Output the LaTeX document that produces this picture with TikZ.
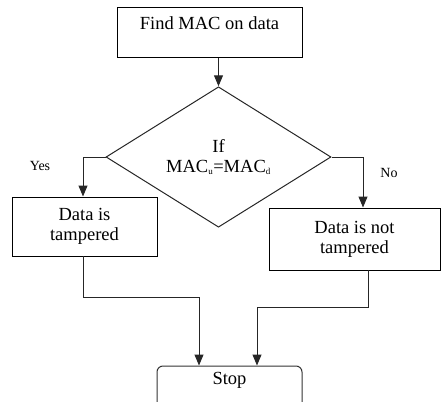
\documentclass[tikz,border=0pt]{standalone}
\usepackage{fontspec}
\setmainfont{Liberation Serif}
\usetikzlibrary{shapes.geometric,arrows.meta}
\begin{document}
\begin{tikzpicture}[x=1pt,y=-1pt,
  every node/.style={font=\rmfamily\fontsize{18.5}{22}\selectfont},
  procbox/.style={draw=black,line width=1pt,rectangle,inner sep=0pt,align=center},
  decision/.style={draw=black!85,line width=1pt,diamond,inner sep=0pt,align=center},
  endbox/.style={draw=black!80,line width=1pt,rectangle,rounded corners=6pt,inner sep=0pt},
  branchlabel/.style={font=\rmfamily\fontsize{14}{16}\selectfont},
  flow/.style={draw=black!85,line width=1pt,-{Triangle[width=9pt,length=11pt]}}]
\useasboundingbox (0,0) rectangle (441,401);

% process and decision boxes
\node[procbox,minimum width=185pt,text height=22pt,text depth=28pt] (find) at (209.5,7) [anchor=north] {Find MAC on data};
\node[decision,minimum width=225pt,minimum height=121pt] (test) at (218.5,157)
  {If\\[-2pt]MAC\textsubscript{\fontsize{9}{9}\selectfont u}=MAC\textsubscript{\fontsize{9}{9}\selectfont d}};
\node[procbox,minimum width=145pt,minimum height=59pt] (bad) at (84.5,226.5) {Data is\\[-2pt]tampered};
\node[procbox,minimum width=171pt,minimum height=62pt] (good) at (354.5,239) {Data is not\\[-2pt]tampered};
\node[endbox,minimum width=145pt,minimum height=50pt,text height=18pt,text depth=32pt] (stop) at (229.5,365.5) [anchor=north] {Stop};

% branch labels
\node[branchlabel] (yes) at (40,166) {Yes};
\node[branchlabel] (no) at (389,173) {No};

% connectors
\draw[flow] (test.north |- find.south) -- (test.north);
\draw[flow] (test.west) -| (bad.north -| 83,0);
\draw[flow] (test.east) -| (good.north -| 363,0);
\coordinate (badout) at (83,256);
\coordinate (goodout) at (368,270);
\draw[flow] (badout) |- (199,297) -- (stop.north -| 199,0);
\draw[flow] (goodout) |- (257,307) -- (stop.north -| 257,0);
\end{tikzpicture}
\end{document}
